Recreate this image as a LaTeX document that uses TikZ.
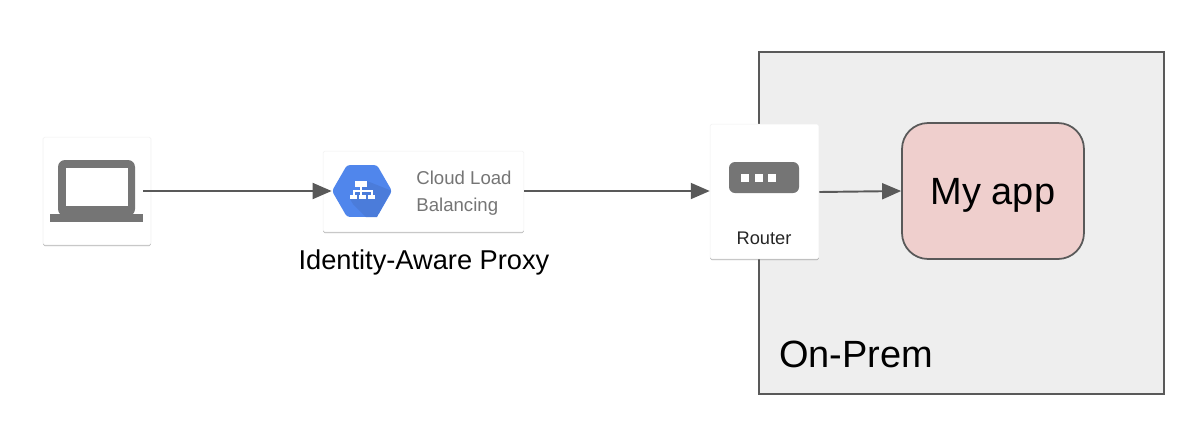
\documentclass[tikz,border=0pt]{standalone}
\usepackage{fontspec}
\setmainfont{Liberation Sans}
\usetikzlibrary{positioning}
\usetikzlibrary{arrows.meta}
\usetikzlibrary{shadows}
\usetikzlibrary{shapes.geometric}
\usepackage{xcolor}

\definecolor{icongray}{HTML}{757575}
\definecolor{linegray}{HTML}{595959}
\definecolor{lbblue}{HTML}{5086EC}
\definecolor{lbdark}{HTML}{4B7CDA}
\definecolor{prembg}{HTML}{EEEEEE}
\definecolor{appred}{HTML}{EFCFCD}

\tikzset{
  card/.style={draw=black!6, fill=white, line width=0.3pt, inner sep=0, rounded corners=1pt,
    drop shadow={shadow xshift=0pt, shadow yshift=-0.7pt, opacity=0.3, fill=black}},
  flow/.style={draw=linegray, line width=1.1pt, -{Triangle[length=0.38cm,width=0.32cm]}},
  icon/.style={fill=icongray, draw=none},
  cloudtext/.style={text=icongray, font=\fontsize{10.6}{12}\selectfont, inner sep=0, anchor=west},
  bigtext/.style={font=\fontsize{21.6}{24}\selectfont, inner sep=0},
}

\begin{document}
\begin{tikzpicture}[x=0.02cm, y=-0.02cm]
\useasboundingbox (0,0) rectangle (1194,444);

% on-prem box
\node[draw=linegray, fill=prembg, line width=1pt, minimum width=8.1cm, minimum height=6.84cm, inner sep=0] (prem) at (961.5,223) {};
\node[bigtext, anchor=west] (premlabel) at (779,354) {On-Prem};
\node[draw=linegray, fill=appred, line width=1pt, rounded corners=0.52cm, minimum width=3.64cm, minimum height=2.72cm, inner sep=0] (app) at (993,191) {};
\node[bigtext] (applabel) at (993,195) {My app};

% laptop
\node[card, minimum width=2.16cm, minimum height=2.16cm] (laptop) at (97,191) {};
\fill[icon, rounded corners=0.14cm] (58,160) rectangle (135,216);
\fill[white] (66,168) rectangle (128,206);
\fill[icon] (50,214) rectangle (143,222);
\coordinate (laptopout) at (143,191);

% load balancer
\node[card, minimum width=4.02cm, minimum height=1.62cm] (lb) at (423.5,191.5) {};
\node[regular polygon, regular polygon sides=6, fill=lbblue, rounded corners=0.06cm, minimum size=1.2cm, inner sep=0] (lbicon) at (362,191) {};
\begin{scope}
\clip (333,191) -- (347,165) -- (377,165) -- (391,191) -- (377,217) -- (347,217) -- cycle;
\fill[lbdark] (367,181) -- (392,191) -- (377,217) -- (366,217) -- (353,204) -- (350,199) -- cycle;
\end{scope}
\fill[white] (355,181) rectangle (367,187);
\fill[white] (360,187) rectangle (362,191);
\fill[white] (352.5,190) rectangle (372.5,192);
\fill[white] (352.5,191) rectangle (354.5,195);
\fill[white] (360,191) rectangle (362,195);
\fill[white] (370.5,191) rectangle (372.5,195);
\fill[white] (350,195) rectangle (357,199);
\fill[white] (358.5,195) rectangle (365.5,199);
\fill[white] (368,195) rectangle (375,199);
\node[cloudtext] (lbtop) at (416,178) {Cloud Load};
\node[cloudtext] (lbbottom) at (416,207) {Balancing};
\node[font=\fontsize{15.5}{18}\selectfont, inner sep=0] (iap) at (424,262) {Identity-Aware Proxy};

% router
\node[card, minimum width=2.18cm, minimum height=2.7cm] (router) at (764.5,191.5) {};
\fill[icon, rounded corners=0.12cm] (729,162) rectangle (799,193);
\foreach \sx in {741,754.5,768}{
  \fill[white] (\sx,174) rectangle (\sx+8,182);
}
\node[font=\fontsize{10.4}{12}\selectfont, text=black!85, inner sep=0] (routerlabel) at (764,238.5) {Router};

% connectors
\draw[flow] (laptopout) -- (lbicon.west);
\draw[flow] (lb.east |- laptopout) -- (router.west |- laptopout);
\draw[flow] (router.east |- 0,192) -- (app.west);

\end{tikzpicture}
\end{document}
